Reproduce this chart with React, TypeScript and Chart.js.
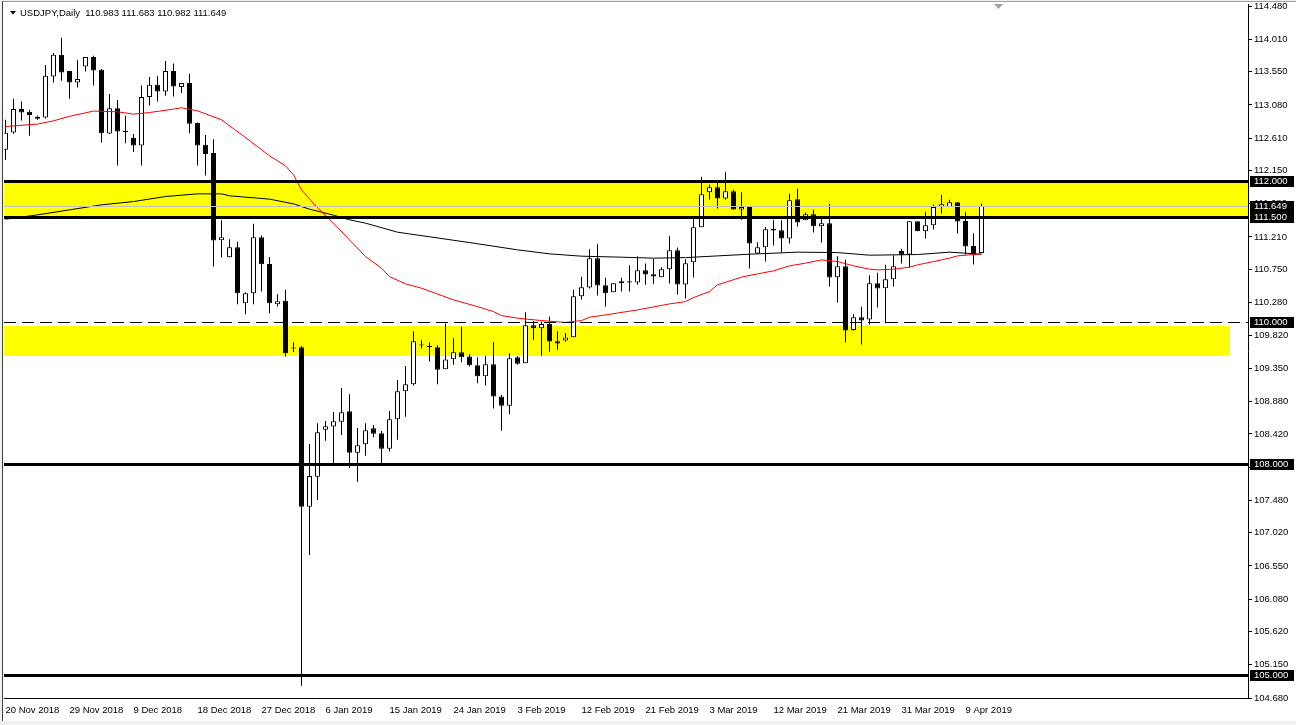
import React, { useEffect, useRef } from 'react';
import { Chart, registerables } from 'chart.js';

Chart.register(...registerables);

const SYMBOL = 'USDJPY,Daily';

// OHLC per daily bar, oldest first (bar 0 = 20 Nov 2018)
const opens = [
  112.445, 112.690, 113.021, 112.983, 112.912, 112.902, 113.483, 113.791, 113.560, 113.398,
  113.625, 113.758, 113.578, 112.675, 113.035, 112.714, 112.614, 112.505, 113.191, 113.366,
  113.271, 113.560, 113.333, 113.390, 112.823, 112.515, 112.398, 111.165, 110.924, 111.066,
  110.272, 110.414, 111.207, 110.829, 110.258, 110.305, 109.643, 109.649, 107.390, 107.815,
  108.481, 108.524, 108.594, 108.742, 108.155, 108.274, 108.501, 108.430, 108.212, 108.628,
  109.025, 109.124, 109.677, 109.657, 109.649, 109.337, 109.479, 109.578, 109.516, 109.394,
  109.238, 109.408, 108.949, 108.821, 109.507, 109.422, 109.960, 109.918, 109.979, 109.734,
  109.742, 109.790, 110.371, 110.493, 110.910, 110.527, 110.428, 110.556, 110.584, 110.564,
  110.740, 110.683, 110.641, 110.754, 111.023, 110.536, 110.853, 111.349, 111.845, 111.916,
  111.754, 111.859, 111.599, 111.633, 110.975, 111.066, 111.325, 111.307, 111.188, 111.746,
  111.448, 111.533, 111.363, 111.406, 110.641, 110.797, 109.894, 110.074, 110.040, 110.556,
  110.485, 110.612, 111.013, 110.961, 111.434, 111.292, 111.377, 111.633, 111.633, 111.703,
  111.438, 111.084, 110.983,
];
const highs = [
  112.870, 113.167, 113.129, 113.011, 112.930, 113.645, 113.815, 114.032, 113.560, 113.720,
  113.758, 113.776, 113.590, 113.234, 113.149, 112.926, 112.667, 113.356, 113.475, 113.493,
  113.701, 113.667, 113.390, 113.521, 112.830, 112.653, 112.596, 111.448, 111.179, 111.141,
  110.428, 111.396, 111.230, 110.928, 110.400, 110.461, 109.714, 109.667, 108.279, 108.572,
  108.604, 108.732, 109.072, 108.983, 108.505, 108.572, 108.548, 108.463, 108.746, 109.185,
  109.384, 109.876, 109.748, 109.714, 109.677, 109.983, 109.776, 109.937, 109.550, 109.507,
  109.521, 109.724, 108.977, 109.564, 109.521, 110.145, 110.021, 110.012, 110.082, 109.876,
  109.851, 110.461, 110.645, 111.037, 111.108, 110.631, 110.556, 110.631, 110.811, 110.938,
  110.833, 110.900, 110.782, 111.226, 111.060, 110.896, 111.467, 112.062, 111.949, 111.995,
  112.128, 111.878, 111.845, 111.633, 111.137, 111.353, 111.453, 111.448, 111.821, 111.892,
  111.556, 111.594, 111.467, 111.679, 110.938, 110.886, 110.116, 110.220, 110.669, 110.702,
  110.815, 110.947, 111.042, 111.434, 111.434, 111.566, 111.669, 111.803, 111.736, 111.703,
  111.562, 111.264, 111.683,
];
const lows = [
  112.300, 112.671, 112.860, 112.643, 112.870, 112.888, 113.398, 113.422, 113.167, 113.327,
  113.554, 113.356, 112.548, 112.667, 112.222, 112.539, 112.412, 112.222, 113.072, 113.129,
  113.210, 113.200, 113.248, 112.681, 112.222, 112.080, 110.791, 110.918, 110.920, 110.258,
  110.116, 110.258, 110.437, 110.130, 110.224, 109.516, 109.582, 104.854, 106.706, 107.485,
  108.325, 107.985, 108.406, 107.943, 107.744, 108.113, 108.373, 107.985, 108.170, 108.339,
  108.665, 109.105, 109.629, 109.445, 109.124, 109.337, 109.402, 109.436, 109.374, 109.139,
  109.105, 108.779, 108.467, 108.700, 109.402, 109.422, 109.752, 109.526, 109.586, 109.611,
  109.728, 109.790, 110.323, 110.479, 110.380, 110.224, 110.428, 110.437, 110.437, 110.532,
  110.532, 110.541, 110.641, 110.550, 110.394, 110.337, 110.635, 111.349, 111.740, 111.613,
  111.740, 111.599, 111.453, 110.762, 110.975, 110.862, 111.088, 110.989, 111.117, 111.358,
  111.448, 111.273, 111.131, 110.507, 110.281, 109.714, 109.884, 109.686, 109.969, 110.210,
  109.989, 110.507, 110.833, 110.782, 111.292, 111.188, 111.315, 111.542, 111.633, 111.258,
  110.957, 110.819, 110.982,
];
const closes = [
  112.685, 113.021, 112.973, 112.936, 112.884, 113.493, 113.791, 113.540, 113.398, 113.446,
  113.758, 113.568, 112.681, 113.035, 112.704, 112.695, 112.505, 113.191, 113.366, 113.271,
  113.560, 113.341, 113.390, 112.813, 112.505, 112.384, 111.159, 111.207, 111.066, 110.414,
  110.414, 111.207, 110.825, 110.272, 110.300, 109.564, 109.629, 107.390, 107.825, 108.444,
  108.529, 108.600, 108.728, 108.155, 108.260, 108.473, 108.424, 108.212, 108.628, 109.025,
  109.124, 109.734, 109.672, 109.652, 109.331, 109.473, 109.578, 109.507, 109.394, 109.238,
  109.408, 108.949, 108.821, 109.493, 109.416, 109.960, 109.918, 109.979, 109.728, 109.700,
  109.785, 110.371, 110.499, 110.910, 110.522, 110.414, 110.556, 110.584, 110.564, 110.740,
  110.677, 110.649, 110.754, 111.023, 110.536, 110.839, 111.349, 111.817, 111.916, 111.754,
  111.859, 111.599, 111.633, 111.117, 111.066, 111.321, 111.301, 111.188, 111.732, 111.414,
  111.533, 111.363, 111.406, 110.635, 110.797, 109.884, 110.074, 110.026, 110.556, 110.479,
  110.612, 110.797, 110.957, 111.434, 111.292, 111.377, 111.633, 111.675, 111.703, 111.429,
  111.074, 110.957, 111.649,
];

// Time axis labels (every 8th bar)
const tickBars = [0, 8, 16, 24, 32, 40, 48, 56, 64, 72, 80, 88, 96, 104, 112, 120];
const tickLabels = [
  '20 Nov 2018', '29 Nov 2018', '9 Dec 2018', '18 Dec 2018', '27 Dec 2018', '6 Jan 2019',
  '15 Jan 2019', '24 Jan 2019', '3 Feb 2019', '12 Feb 2019', '21 Feb 2019', '3 Mar 2019',
  '12 Mar 2019', '21 Mar 2019', '31 Mar 2019', '9 Apr 2019',
];

// Price axis labels
const priceTicks = [
  114.48, 114.01, 113.55, 113.08, 112.61, 112.15, 111.68, 111.21, 110.75, 110.28, 109.82,
  109.35, 108.88, 108.42, 107.95, 107.48, 107.02, 106.55, 106.08, 105.62, 105.15, 104.68,
];

// Moving averages: [bar, value]
const maFast: [number, number][] = [
  [0, 112.775], [4, 112.809], [6, 112.855], [8, 112.919], [11, 112.993], [14, 112.983],
  [16, 112.95], [18, 112.973], [21, 113.021], [22, 113.04], [24, 112.997], [27, 112.87],
  [30, 112.619], [33, 112.36], [35, 112.218], [36, 112.09], [37, 111.878], [38, 111.75],
  [39, 111.623], [41, 111.406], [43, 111.169], [45, 110.933], [47, 110.768], [48, 110.649],
  [50, 110.546], [52, 110.485], [56, 110.319], [59, 110.224], [61, 110.153], [62, 110.097],
  [64, 110.06], [67, 110.026], [70, 110.0], [72, 110.026], [73, 110.074], [75, 110.106],
  [79, 110.177], [83, 110.262], [85, 110.295], [86, 110.352], [88, 110.437], [89, 110.532],
  [92, 110.641], [94, 110.687], [96, 110.73], [98, 110.801], [100, 110.839], [102, 110.886],
  [104, 110.862], [106, 110.801], [108, 110.754], [109, 110.744], [111, 110.754], [113, 110.782],
  [114, 110.815], [116, 110.862], [118, 110.91], [119, 110.942], [122, 110.971],
];
const maSlow: [number, number][] = [
  [0, 111.462], [4, 111.523], [8, 111.594], [12, 111.665], [16, 111.712], [20, 111.783],
  [24, 111.821], [27, 111.821], [28, 111.793], [33, 111.746], [36, 111.679], [38, 111.604],
  [41, 111.519], [43, 111.453], [45, 111.406], [49, 111.278], [58, 111.131], [64, 111.028],
  [68, 110.971], [72, 110.938], [77, 110.924], [81, 110.91], [85, 110.918], [89, 110.942],
  [93, 110.966], [99, 110.995], [104, 110.989], [108, 110.952], [114, 110.961], [118, 110.995],
  [122, 110.966],
];

// Drawn objects
const thickLevels = [112.0, 111.5, 108.0, 105.0];
const dashedLevels = [110.0];
const zoneLows = [111.47, 109.53];
const zoneHighs = [112.0, 109.955];
const zoneEndBars = [null, 153] as (number | null)[];
const markedPrices = [112.0, 111.649, 111.5, 110.0, 108.0, 105.0];
const bidPrice = closes[closes.length - 1];
const shiftBar = 124;

const FONT = "'Liberation Sans', Arial, sans-serif";

const decor = {
  id: 'decor',
  beforeDraw(chart: any) {
    const { ctx, width, height } = chart;
    ctx.save();
    ctx.fillStyle = '#ffffff';
    ctx.fillRect(0, 0, width, height);
    ctx.fillStyle = '#f0f0f0';
    ctx.fillRect(0, 0, width, 1);
    ctx.fillRect(0, 0, 2, height);
    ctx.fillRect(0, height - 4, width, 4);
    ctx.fillStyle = '#a0a0a0';
    ctx.fillRect(2, 1, width - 2, 1);
    ctx.fillStyle = '#404040';
    ctx.fillRect(2, 1, 1, height - 5);
    ctx.restore();
  },
  beforeDatasetsDraw(chart: any) {
    const { ctx, chartArea: a, scales } = chart;
    const x = scales.x, y = scales.y;
    ctx.save();
    ctx.beginPath();
    ctx.rect(a.left, a.top, a.right - a.left, a.bottom - a.top);
    ctx.clip();
    ctx.fillStyle = '#ffff00';
    for (let k = 0; k < zoneLows.length; k++) {
      const end = zoneEndBars[k];
      const x2 = end == null ? a.right : Math.round(x.getPixelForValue(end));
      const y1 = Math.round(y.getPixelForValue(zoneHighs[k]));
      const y2 = Math.round(y.getPixelForValue(zoneLows[k]));
      ctx.fillRect(a.left, y1, x2 - a.left, y2 - y1);
    }
    ctx.restore();
  },
  afterDatasetsDraw(chart: any) {
    const { ctx, chartArea: a, scales } = chart;
    const x = scales.x, y = scales.y;
    ctx.save();
    ctx.beginPath();
    ctx.rect(a.left, a.top, a.right - a.left, a.bottom - a.top);
    ctx.clip();
    // bid line
    ctx.fillStyle = '#c0c0c0';
    ctx.fillRect(a.left, Math.round(y.getPixelForValue(bidPrice)), a.right - a.left, 1);
    ctx.fillStyle = '#000';
    thickLevels.forEach((v) => {
      const py = Math.round(y.getPixelForValue(v));
      ctx.fillRect(a.left, py - 1, a.right - a.left, 3);
    });
    ctx.strokeStyle = '#000';
    ctx.lineWidth = 1;
    ctx.setLineDash([12, 6]);
    dashedLevels.forEach((v) => {
      const py = Math.round(y.getPixelForValue(v)) + 0.5;
      ctx.beginPath();
      ctx.moveTo(a.left, py);
      ctx.lineTo(a.right, py);
      ctx.stroke();
    });
    ctx.setLineDash([]);
    ctx.restore();

    // chart shift marker
    ctx.save();
    const sx = Math.round(x.getPixelForValue(shiftBar));
    ctx.fillStyle = '#a0a0a0';
    ctx.beginPath();
    ctx.moveTo(sx - 4, a.top);
    ctx.lineTo(sx + 5, a.top);
    ctx.lineTo(sx + 0.5, a.top + 5);
    ctx.closePath();
    ctx.fill();
    ctx.restore();
  },
  afterDraw(chart: any) {
    const { ctx, chartArea: a, scales, width } = chart;
    const y = scales.y;
    ctx.save();
    ctx.font = `9.5px ${FONT}`;
    ctx.textBaseline = 'middle';
    ctx.textAlign = 'left';
    markedPrices.forEach((v) => {
      const py = Math.round(y.getPixelForValue(v));
      ctx.fillStyle = '#000';
      ctx.fillRect(a.right + 2, py - 5, width - a.right - 4, 11);
      ctx.fillStyle = '#fff';
      ctx.fillText(v.toFixed(3), a.right + 6, py + 0.5);
    });
    // title
    ctx.fillStyle = '#000';
    ctx.beginPath();
    ctx.moveTo(10, 11);
    ctx.lineTo(16, 11);
    ctx.lineTo(13, 14.5);
    ctx.closePath();
    ctx.fill();
    const last = closes.length - 1;
    const txt = `${SYMBOL}  ${opens[last].toFixed(3)} ${highs[last].toFixed(3)} ${lows[last].toFixed(3)} ${closes[last].toFixed(3)}`;
    ctx.fillText(txt, 20, 13);
    ctx.restore();
  },
};

export default function App() {
  const ref = useRef<HTMLCanvasElement>(null);
  useEffect(() => {
    document.body.style.margin = '0';
    const canvas = ref.current!;
    const idx = closes.map((_, i) => i);
    const chart = new Chart(canvas, {
      type: 'bar',
      data: {
        datasets: [
          {
            type: 'line',
            data: maFast.map(([i, v]) => ({ x: i, y: v })),
            borderColor: '#ff0000',
            borderWidth: 1,
            pointRadius: 0,
            tension: 0,
            order: 1,
          } as any,
          {
            type: 'line',
            data: maSlow.map(([i, v]) => ({ x: i, y: v })),
            borderColor: '#000000',
            borderWidth: 1,
            pointRadius: 0,
            tension: 0,
            order: 1,
          } as any,
          {
            type: 'bar',
            data: idx.map((i) => ({ x: i, y: [Math.min(opens[i], closes[i]), Math.max(opens[i], closes[i])] })),
            backgroundColor: idx.map((i) => (closes[i] > opens[i] ? '#ffffff' : '#000000')),
            borderColor: '#000000',
            borderWidth: 1,
            borderSkipped: false,
            barThickness: 5,
            minBarLength: 1,
            inflateAmount: 0,
            grouped: false,
            order: 2,
          } as any,
          {
            type: 'bar',
            data: idx.map((i) => ({ x: i, y: [lows[i], highs[i]] })),
            backgroundColor: '#000000',
            borderWidth: 0,
            barThickness: 1,
            minBarLength: 1,
            inflateAmount: 0,
            grouped: false,
            order: 3,
          } as any,
        ],
      },
      options: {
        animation: false,
        responsive: false,
        devicePixelRatio: 1,
        layout: { padding: { left: 4, top: 4, right: 0, bottom: 0 } },
        plugins: { legend: { display: false }, tooltip: { enabled: false } },
        events: [],
        scales: {
          x: {
            type: 'linear',
            min: -0.1875,
            max: 155.3125,
            offset: false,
            grid: { display: true, drawOnChartArea: false, drawTicks: false },
            border: { display: true, color: '#000', width: 1 },
            ticks: {
              autoSkip: false,
              maxRotation: 0,
              align: 'start',
              padding: 7,
              color: '#000',
              font: { family: FONT, size: 9.5 },
              callback: (_v: any, index: number) => tickLabels[index],
            },
            afterBuildTicks: (s: any) => {
              s.ticks = tickBars.map((v) => ({ value: v }));
            },
            afterFit: (s: any) => {
              s.height = 27;
              s.paddingLeft = 0;
              s.paddingRight = 0;
            },
          } as any,
          y: {
            type: 'linear',
            position: 'right',
            min: 104.68,
            max: 114.51,
            grid: { display: true, drawOnChartArea: false, drawTicks: true, tickLength: 4, color: '#000' },
            border: { display: true, color: '#000', width: 1 },
            ticks: {
              padding: 2,
              color: '#000',
              font: { family: FONT, size: 9.5 },
              callback: (v: any) => Number(v).toFixed(3),
            },
            afterBuildTicks: (s: any) => {
              s.ticks = priceTicks.map((v) => ({ value: v }));
            },
            afterFit: (s: any) => {
              s.width = 48;
              s.paddingTop = 0;
              s.paddingBottom = 0;
            },
          } as any,
        },
      },
      plugins: [decor],
    } as any);
    return () => chart.destroy();
  }, []);
  return (
    <div style={{ width: 1296, height: 725 }}>
      <canvas ref={ref} width={1296} height={725} style={{ display: 'block', width: 1296, height: 725 }} />
    </div>
  );
}
